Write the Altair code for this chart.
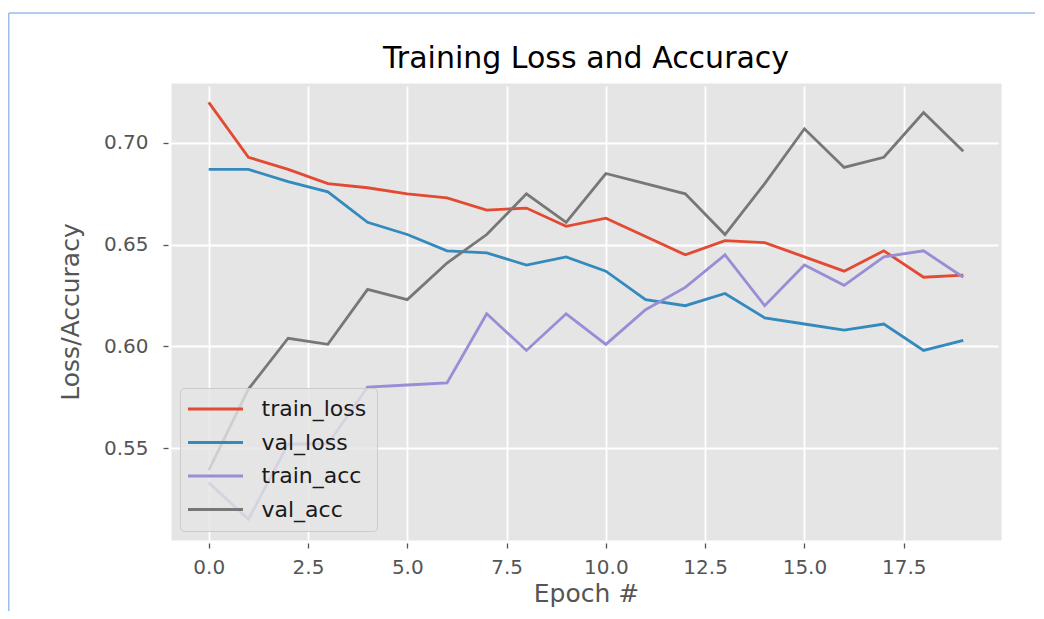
import altair as alt
import pandas as pd

epochs = list(range(20))
train_loss = [0.720, 0.693, 0.687, 0.680, 0.678, 0.675, 0.673, 0.667, 0.668, 0.659,
              0.663, 0.654, 0.645, 0.652, 0.651, 0.644, 0.637, 0.647, 0.634, 0.635]
val_loss = [0.687, 0.687, 0.681, 0.676, 0.661, 0.655, 0.647, 0.646, 0.640, 0.644,
            0.637, 0.623, 0.620, 0.626, 0.614, 0.611, 0.608, 0.611, 0.598, 0.603]
train_acc = [0.533, 0.515, 0.552, 0.552, 0.580, 0.581, 0.582, 0.616, 0.598, 0.616,
             0.601, 0.618, 0.629, 0.645, 0.620, 0.640, 0.630, 0.644, 0.647, 0.634]
val_acc = [0.539, 0.579, 0.604, 0.601, 0.628, 0.623, 0.641, 0.655, 0.675, 0.661,
           0.685, 0.680, 0.675, 0.655, 0.680, 0.707, 0.688, 0.693, 0.715, 0.696]

series_names = ["train_loss", "val_loss", "train_acc", "val_acc"]
series_colors = ["#E24A33", "#348ABD", "#988ED5", "#777777"]
x_ticks = [0, 2.5, 5, 7.5, 10, 12.5, 15, 17.5]
y_ticks = [0.55, 0.60, 0.65, 0.70]

rows = []
for name, vals in zip(series_names, [train_loss, val_loss, train_acc, val_acc]):
    for e, v in zip(epochs, vals):
        rows.append({"epoch": e, "value": v, "series": name})
df = pd.DataFrame(rows)

FONT = "DejaVu Sans"

lines = alt.Chart(df).mark_line(strokeWidth=2.8).encode(
    x=alt.X("epoch:Q",
            scale=alt.Scale(domain=[-0.95, 19.95], nice=False, zero=False),
            axis=alt.Axis(values=x_ticks, format=".1f", title="Epoch #",
                          labelFlush=False, labelOverlap=False,
                          titlePadding=4, labelPadding=9)),
    y=alt.Y("value:Q",
            scale=alt.Scale(domain=[0.5048, 0.7295], nice=False, zero=False),
            axis=alt.Axis(values=y_ticks, format=".2f", title="Loss/Accuracy",
                          labelOverlap=False, titlePadding=20, labelPadding=15)),
    color=alt.Color("series:N",
                    scale=alt.Scale(domain=series_names, range=series_colors),
                    legend=alt.Legend(title=None, orient="none", legendX=9, legendY=305,
                                      symbolType="M-3,0H3", symbolSize=336,
                                      symbolStrokeWidth=3, symbolOffset=14.5,
                                      labelOffset=35, labelFontSize=22, labelFont=FONT,
                                      labelColor="#1a1a1a", rowPadding=11.5, padding=10,
                                      fillColor="rgba(229,229,229,0.8)",
                                      strokeColor="#CCCCCC", cornerRadius=4)),
    order=alt.Order("epoch:Q"),
)

border = alt.Data(values=[{"k": 1}])
top_rule = alt.Chart(border).mark_rule(color="#9DBDE6", strokeWidth=1.5).encode(
    x=alt.value(-162.25), x2=alt.value(880), y=alt.value(-70))
left_rule = alt.Chart(border).mark_rule(color="#9DBDE6", strokeWidth=1.5).encode(
    x=alt.value(-162.25), y=alt.value(-70), y2=alt.value(620))

chart = alt.layer(lines, top_rule, left_rule).properties(
    width=830,
    height=457,
    title=alt.TitleParams("Training Loss and Accuracy", fontSize=30, font=FONT,
                          fontWeight="normal", color="#000000", anchor="middle",
                          baseline="alphabetic", offset=-86),
    autosize=alt.AutoSizeParams(type="none"),
    padding={"left": 163, "top": 75, "right": 34, "bottom": 71},
    background="white",
).configure_view(
    fill="#E5E5E5", stroke="transparent"
).configure_axis(
    domain=False,
    grid=True,
    gridColor="white",
    gridWidth=1.8,
    gridOpacity=1,
    tickColor="#555555",
    tickSize=5,
    tickWidth=1.3,
    tickOffset=0,
    offset=3,
    labelFont=FONT,
    labelFontSize=20,
    labelColor="#555555",
    titleFont=FONT,
    titleFontSize=25,
    titleFontWeight="normal",
    titleColor="#555555",
)

chart.save("out.html", embed_options={"renderer": "svg", "actions": False})
